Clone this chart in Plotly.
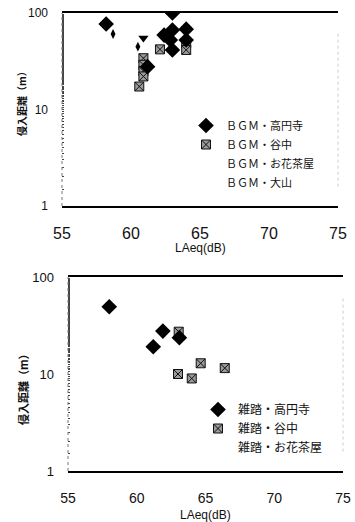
import plotly.graph_objects as go

# ---- data (top: BGM) ----
bgm_koenji_x = [58.2, 62.4, 63.0, 63.0, 62.85, 63.0, 64.0, 64.0, 61.2]
bgm_koenji_y = [77, 59, 100, 66.6, 52.5, 41.4, 68, 52.5, 27.8]
bgm_yanaka_x = [60.6, 60.9, 60.9, 60.9, 60.9, 62.1, 64.0, 64.0]
bgm_yanaka_y = [17.3, 34, 29, 25, 22, 42, 48.5, 41.4]
bgm_ohanajaya_x = [58.7, 60.5]
bgm_ohanajaya_y = [60.6, 44.8]
bgm_oyama_x = [60.9]
bgm_oyama_y = [55]

# ---- data (bottom: 雑踏) ----
zatto_koenji_x = [58.0, 61.2, 61.9, 63.1]
zatto_koenji_y = [49.4, 19.1, 27.7, 23.7]
zatto_yanaka_x = [63.05, 63.0, 64.0, 64.65, 66.4]
zatto_yanaka_y = [27.3, 10.0, 9.0, 12.9, 11.5]

x_ticks = [55, 60, 65, 70, 75]
y_ticks = [1, 10, 100]
y_ticktext = ["1", "10", "100"]

W, H = 355, 522
FONT = "Liberation Sans, Noto Sans CJK JP"
CJK = "Noto Sans CJK JP"


def fx(px):
    return px / W


def fy(py):
    return 1 - py / H


diamond = dict(symbol="diamond", size=12, color="black")
hatch = dict(symbol="square-x", size=9, color="#9a9a9a", line=dict(color="#111", width=1))

fig = go.Figure()

# top plot
fig.add_trace(go.Scatter(x=bgm_yanaka_x, y=bgm_yanaka_y, mode="markers", marker=hatch,
                         name="ＢＧＭ・谷中", legend="legend", legendrank=2, xaxis="x", yaxis="y"))
fig.add_trace(go.Scatter(x=bgm_koenji_x, y=bgm_koenji_y, mode="markers", marker=diamond,
                         name="ＢＧＭ・高円寺", legend="legend", legendrank=1, xaxis="x", yaxis="y"))
fig.add_trace(go.Scatter(x=bgm_ohanajaya_x, y=bgm_ohanajaya_y, mode="markers",
                         marker=dict(symbol="diamond-tall", size=7, color="black"),
                         showlegend=False, legendgroup="oh", xaxis="x", yaxis="y"))
fig.add_trace(go.Scatter(x=[None], y=[None], mode="lines", line=dict(width=0, color="rgba(0,0,0,0)"),
                         name="ＢＧＭ・お花茶屋", legend="legend", legendrank=3, legendgroup="oh",
                         xaxis="x", yaxis="y"))
fig.add_trace(go.Scatter(x=bgm_oyama_x, y=bgm_oyama_y, mode="markers",
                         marker=dict(symbol="triangle-down", size=9, color="black"),
                         showlegend=False, legendgroup="oy", xaxis="x", yaxis="y"))
fig.add_trace(go.Scatter(x=[None], y=[None], mode="lines", line=dict(width=0, color="rgba(0,0,0,0)"),
                         name="ＢＧＭ・大山", legend="legend", legendrank=4, legendgroup="oy",
                         xaxis="x", yaxis="y"))

# bottom plot
fig.add_trace(go.Scatter(x=zatto_yanaka_x, y=zatto_yanaka_y, mode="markers", marker=hatch,
                         name="雑踏・谷中", legend="legend2", legendrank=2, xaxis="x2", yaxis="y2"))
fig.add_trace(go.Scatter(x=zatto_koenji_x, y=zatto_koenji_y, mode="markers", marker=diamond,
                         name="雑踏・高円寺", legend="legend2", legendrank=1, xaxis="x2", yaxis="y2"))
fig.add_trace(go.Scatter(x=[None], y=[None], mode="lines", line=dict(width=0, color="rgba(0,0,0,0)"),
                         name="雑踏・お花茶屋", legend="legend2", legendrank=3, xaxis="x2", yaxis="y2"))


def xax(domain, anchor, tsize, standoff):
    return dict(domain=domain, anchor=anchor, range=[55, 75], tickvals=x_ticks,
                showline=True, mirror=True, linecolor="black", linewidth=1.6,
                showgrid=False, zeroline=False, ticks="", automargin=False,
                ticklabelstandoff=standoff,
                tickfont=dict(size=tsize, family=FONT, color="#111"))


def yax(domain, anchor, tsize):
    return dict(domain=domain, anchor=anchor, type="log", range=[0, 2],
                tickvals=y_ticks, ticktext=y_ticktext, showline=False, showgrid=False,
                zeroline=False, ticks="inside", ticklen=2, tickcolor="#444", automargin=False,
                ticklabelstandoff=13,
                minor=dict(ticks="inside", ticklen=2, tickcolor="#444", showgrid=False),
                tickfont=dict(size=tsize, family=FONT, color="#111"))


fig.update_layout(
    width=W, height=H, autosize=False, template="none",
    paper_bgcolor="white", plot_bgcolor="white",
    margin=dict(l=0, r=0, t=0, b=0),
    xaxis=xax([fx(62), fx(338)], "y", 16, 12),
    yaxis=yax([fy(206), fy(13)], "x", 12),
    xaxis2=xax([fx(68), fx(343)], "y2", 14, 13),
    yaxis2=yax([fy(471), fy(277)], "x2", 13),
    legend=dict(x=fx(186), y=fy(111), xanchor="left", yanchor="top",
                font=dict(size=11, family=CJK, color="#111"), bgcolor="rgba(0,0,0,0)",
                tracegroupgap=0, itemwidth=30),
    legend2=dict(x=fx(198), y=fy(395), xanchor="left", yanchor="top",
                 font=dict(size=12, family=CJK, color="#111"), bgcolor="rgba(0,0,0,0)",
                 tracegroupgap=0, itemwidth=30),
    showlegend=True,
)

# axis titles as annotations
ann = dict(xref="paper", yref="paper", showarrow=False, xanchor="center", yanchor="middle")
fig.add_annotation(text="LAeq(dB)", x=fx(200), y=fy(248),
                   font=dict(size=12, family=FONT, color="#111"), **ann)
fig.add_annotation(text="LAeq(dB)", x=fx(205), y=fy(515),
                   font=dict(size=12, family=FONT, color="#111"), **ann)
fig.add_annotation(text="<b>侵入距離（m）</b>", x=fx(22), y=fy(101), textangle=-90,
                   font=dict(size=10, family=CJK, color="#111"), **ann)
fig.add_annotation(text="<b>侵入距離（m）</b>", x=fx(23), y=fy(387), textangle=-90,
                   font=dict(size=11, family=CJK, color="#111"), **ann)

# dotted left/right frame lines
for xr, yr in [("x domain", "y domain"), ("x2 domain", "y2 domain")]:
    fig.add_shape(type="line", xref=xr, yref=yr, x0=0, x1=0, y0=0, y1=1,
                  line=dict(color="#777", width=1, dash="dot"))
    fig.add_shape(type="line", xref=xr, yref=yr, x0=1, x1=1, y0=0.1, y1=0.9,
                  line=dict(color="#ccc", width=1, dash="dot"))

fig.write_html("out.html", config=dict(displayModeBar=False),
               post_script="document.body.style.margin='0';")
